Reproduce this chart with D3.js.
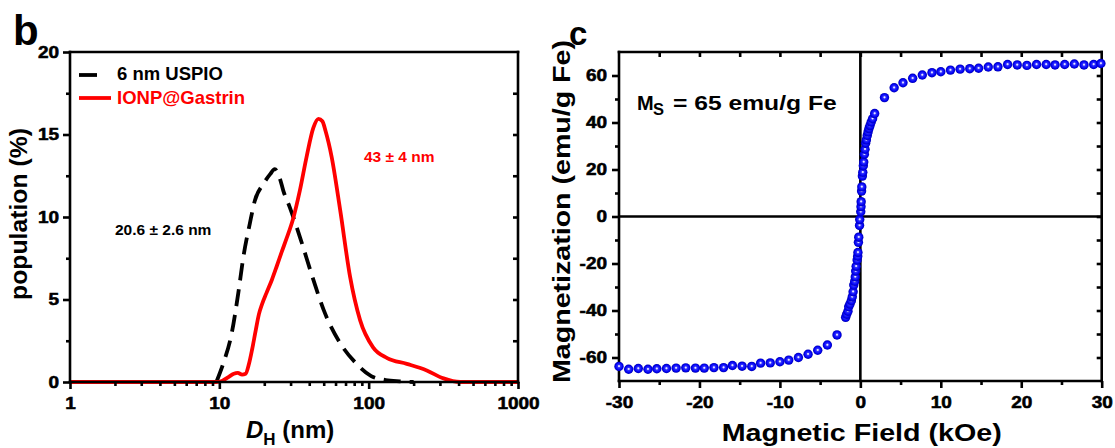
<!DOCTYPE html>
<html><head><meta charset="utf-8">
<script src="https://cdn.jsdelivr.net/npm/d3@7"></script>
<style>
body{margin:0;background:#fff;}
svg{display:block;font-family:"Liberation Sans",Arial,sans-serif;font-weight:bold;}
svg text{font-weight:bold;}
</style></head><body>
<svg id="chart" width="1115" height="448"></svg>
<script>
// ---------- Panel b : DLS size distribution ----------
const uspioD   = [9.6, 10.6, 12.1, 13.4, 14.5, 16.0, 17.3, 19.7, 21.9, 23.5, 25.5, 26.8, 29.6, 34.6, 42.6, 49.8, 64.5, 83, 104, 130, 162, 200];
const uspioPop = [0.05, 1.1, 2.95, 5.4, 7.6, 9.6, 11.0, 12.0, 12.6, 12.9, 12.3, 11.6, 10.6, 8.8, 6.2, 4.4, 2.35, 1.1, 0.36, 0.12, 0.04, 0];
const gastD    = [1, 9.5, 10.5, 11.5, 12.5, 13.3, 14.2, 15.0, 15.8, 16.6, 17.5, 18.4, 19.3, 20.7, 22.5, 24.2, 26.2, 28.2, 31.2, 34.6, 38.4, 42.6, 46.1, 49, 51.5, 56.5, 64.5, 75, 87.6, 107, 133, 180, 245, 317, 410, 1000];
const gastPop  = [0, 0, 0.08, 0.3, 0.5, 0.55, 0.45, 0.5, 1.1, 2.0, 3.1, 4.1, 4.7, 5.4, 6.2, 7.0, 7.9, 8.7, 9.9, 11.6, 13.65, 15.4, 15.95, 15.8, 15.2, 13.65, 10.4, 6.4, 3.75, 2.1, 1.45, 1.1, 0.7, 0.22, 0, 0];
const dlsXTicks = [1, 10, 100, 1000];
const dlsYTicks = [0, 5, 10, 15, 20];
const dlsYMinor = [2.5, 7.5, 12.5, 17.5];
const legendLabels = ["6 nm USPIO", "IONP@Gastrin"];
const peakLabels = ["20.6 ± 2.6 nm", "43 ± 4 nm"];

// ---------- Panel c : magnetization ----------
const fieldH = [-30.0, -28.8, -27.6, -26.4, -25.3, -24.1, -22.9, -21.7, -20.5, -19.4, -18.2, -17.0, -15.9, -14.7, -13.5, -12.4, -11.2, -10.0, -8.9, -7.7, -6.5, -5.3, -4.1, -2.9,
  -1.83, -1.7, -1.54, -1.45, -1.3, -1.12, -1.0, -0.9, -0.82, -0.7, -0.63, -0.58, -0.52, -0.4, -0.33, -0.3, -0.24, -0.2, -0.1, -0.08,
  0.05, 0.08, 0.1, 0.15, 0.18, 0.25, 0.3, 0.37, 0.42, 0.5, 0.58, 0.65, 0.75, 0.86, 0.96, 1.07, 1.2, 1.35, 1.52, 1.78,
  3.0, 4.2, 5.3, 6.5, 7.7, 8.9, 10.0, 11.2, 12.4, 13.6, 14.7, 15.9, 17.1, 18.3, 19.5, 20.7, 21.9, 23.1, 24.2, 25.4, 26.6, 27.8, 29.0, 29.9];
const magM = [-63.8, -65.0, -64.7, -65.0, -64.8, -64.7, -64.5, -64.4, -64.5, -64.5, -64.3, -64.3, -63.4, -63.7, -63.8, -62.4, -62.3, -61.8, -61.1, -60.0, -58.6, -56.9, -54.7, -50.4,
  -42.9, -41.6, -40.3, -38.4, -37.3, -35.8, -34.2, -32.0, -29.2, -27.6, -25.7, -23.2, -21.2, -18.5, -16.9, -15.3, -11.0, -8.8, -3.8, -1.3,
  2.0, 4.2, 6.3, 10.8, 12.6, 17.2, 18.8, 21.6, 23.2, 26.5, 28.6, 31.2, 32.6, 34.5, 36.0, 37.4, 38.7, 40.2, 41.6, 43.8,
  50.6, 54.8, 56.9, 58.8, 60.2, 61.2, 61.6, 62.3, 62.7, 62.9, 63.1, 63.6, 63.7, 64.7, 64.5, 64.3, 64.7, 64.7, 64.5, 64.7, 64.9, 64.5, 64.7, 65.1];
const magXTicks = [-30, -20, -10, 0, 10, 20, 30];
const magXMinor = [-25, -15, -5, 5, 15, 25];
const magYTicks = [-60, -40, -20, 0, 20, 40, 60];
const magYMinor = [-50, -30, -10, 10, 30, 50];
const msLabel = ["M", "S", "= 65 emu/g Fe"];

const svg = d3.select("#chart");
const AXW = 2.6;
const FONT = '"Liberation Sans", Arial, sans-serif';
const plainFmt = d => String(d);

function styleAxis(g) {
  g.attr("font-family", FONT).attr("font-size", 16.5);
  g.select(".domain").remove();
  g.selectAll(".tick line").attr("stroke", "#000").attr("stroke-width", AXW);
  g.selectAll(".tick text").style("font-size", "16.5px").style("font-weight", "bold")
    .style("font-family", FONT).attr("fill", "#000")
    .attr("stroke", "#000").attr("stroke-width", 0.55)
    .each(function () {
      const w = this.getComputedTextLength();
      if (w > 0) d3.select(this).attr("textLength", w * 1.15).attr("lengthAdjust", "spacingAndGlyphs");
    });
}
function frame(g, x0, x1, y0, y1) {
  const L = [[x0, y0, x0, y1], [x0, y1, x1, y1], [x0, y0, x1, y0], [x1, y0, x1, y1]];
  g.selectAll("line.frame").data(L).join("line").attr("class", "frame")
    .attr("x1", d => d[0]).attr("y1", d => d[1]).attr("x2", d => d[2]).attr("y2", d => d[3])
    .attr("stroke", "#000").attr("stroke-width", AXW).attr("stroke-linecap", "square");
}

// ================= Panel b =================
const xb = d3.scaleLog().domain([1, 1000]).range([70, 518]);
const yb = d3.scaleLinear().domain([0, 20]).range([382, 52]);
const gb = svg.append("g");

const xbMinor = [];
[1, 10, 100].forEach(dec => { for (let k = 2; k <= 9; k++) xbMinor.push(dec * k); });

const lineB = d3.line().x(d => xb(d[0])).y(d => yb(d[1])).curve(d3.curveMonotoneX);
gb.append("path").datum(uspioD.map((d, i) => [d, uspioPop[i]]))
  .attr("d", lineB).attr("fill", "none").attr("stroke", "#000").attr("stroke-width", 3.8)
  .attr("stroke-dasharray", "17,9");
gb.append("path").datum(gastD.map((d, i) => [d, gastPop[i]]))
  .attr("d", lineB).attr("fill", "none").attr("stroke", "#ff0000").attr("stroke-width", 3.8);

gb.append("g").attr("transform", "translate(0,382)")
  .call(d3.axisBottom(xb).tickValues(xbMinor).tickSize(4).tickFormat("")).call(styleAxis);
gb.append("g").attr("transform", "translate(0,382)")
  .call(d3.axisBottom(xb).tickValues(dlsXTicks).tickSize(7).tickPadding(8).tickFormat(plainFmt)).call(styleAxis);
gb.append("g").attr("transform", "translate(70,0)")
  .call(d3.axisLeft(yb).tickValues(dlsYMinor).tickSize(4).tickFormat("")).call(styleAxis);
gb.append("g").attr("transform", "translate(70,0)")
  .call(d3.axisLeft(yb).tickValues(dlsYTicks).tickSize(7).tickPadding(4).tickFormat(plainFmt)).call(styleAxis);
gb.append("g").attr("transform", "translate(518,0)")
  .call(d3.axisLeft(yb).tickValues(dlsYTicks.slice(1, -1).concat(dlsYMinor)).tickSize(5).tickFormat("")).call(styleAxis);
frame(gb, 70, 518, 52, 382);

gb.append("line").attr("x1", 79).attr("x2", 97).attr("y1", 75).attr("y2", 75)
  .attr("stroke", "#000").attr("stroke-width", 3.8);
gb.append("line").attr("x1", 79).attr("x2", 111).attr("y1", 98).attr("y2", 98)
  .attr("stroke", "#ff0000").attr("stroke-width", 3.8);
gb.append("text").attr("x", 117).attr("y", 80).attr("font-size", 18.5).attr("fill", "#000").text(legendLabels[0]);
gb.append("text").attr("x", 117).attr("y", 104).attr("font-size", 18.5).attr("fill", "#ff0000").text(legendLabels[1]);

gb.append("text").attr("x", 115).attr("y", 235).attr("font-size", 15.5).attr("fill", "#000").text(peakLabels[0]);
gb.append("text").attr("x", 364).attr("y", 162).attr("font-size", 15.5).attr("fill", "#ff0000").text(peakLabels[1]);

gb.append("text").attr("x", 13).attr("y", 45).attr("font-size", 42).text("b");
gb.append("text").attr("transform", "translate(27,214) rotate(-90)").attr("text-anchor", "middle")
  .attr("font-size", 23.5).attr("textLength", 172).attr("lengthAdjust", "spacingAndGlyphs").text("population (%)");
const dt = gb.append("text").attr("x", 246).attr("y", 438).attr("font-size", 24);
dt.append("tspan").attr("font-style", "italic").text("D");
dt.append("tspan").attr("font-size", 17).attr("dy", 7).text("H");
dt.append("tspan").attr("dy", -7).text(" (nm)");

// ================= Panel c =================
const xc = d3.scaleLinear().domain([-30, 30]).range([619, 1101.7]);
const yc = d3.scaleLinear().domain([-70, 70]).range([381, 52]);
const gc = svg.append("g");

const defs = svg.append("defs");
const grad = defs.append("radialGradient").attr("id", "ball")
  .attr("cx", "50%").attr("cy", "50%").attr("r", "50%").attr("fx", "50%").attr("fy", "46%");
[[0, "#ffffff"], [0.14, "#d0d0ff"], [0.32, "#3030ff"], [0.75, "#0000f2"], [1, "#0000b0"]]
  .forEach(s => grad.append("stop").attr("offset", s[0]).attr("stop-color", s[1]));

gc.append("g").attr("transform", "translate(0,381)")
  .call(d3.axisBottom(xc).tickValues(magXMinor).tickSize(4).tickFormat("")).call(styleAxis);
gc.append("g").attr("transform", "translate(0,381)")
  .call(d3.axisBottom(xc).tickValues(magXTicks).tickSize(7).tickPadding(8).tickFormat(plainFmt)).call(styleAxis);
gc.append("g").attr("transform", "translate(619,0)")
  .call(d3.axisLeft(yc).tickValues(magYMinor).tickSize(4).tickFormat("")).call(styleAxis);
gc.append("g").attr("transform", "translate(619,0)")
  .call(d3.axisLeft(yc).tickValues(magYTicks).tickSize(7).tickPadding(5).tickFormat(plainFmt)).call(styleAxis);
gc.append("g").attr("transform", "translate(1101.7,0)")
  .call(d3.axisLeft(yc).tickValues(magYTicks.concat(magYMinor)).tickSize(5).tickFormat("")).call(styleAxis);
gc.append("g").attr("transform", "translate(0,52)")
  .call(d3.axisBottom(xc).tickValues(magXTicks.slice(1, -1).concat(magXMinor)).tickSize(5).tickFormat("")).call(styleAxis);
frame(gc, 619, 1101.7, 52, 381);
gc.append("line").attr("x1", xc(-30)).attr("x2", xc(30)).attr("y1", yc(0)).attr("y2", yc(0))
  .attr("stroke", "#000").attr("stroke-width", AXW);
gc.append("line").attr("x1", xc(0)).attr("x2", xc(0)).attr("y1", yc(70)).attr("y2", yc(-70))
  .attr("stroke", "#000").attr("stroke-width", AXW);

gc.append("g").selectAll("circle").data(fieldH.map((h, i) => [h, magM[i]])).join("circle")
  .attr("cx", d => xc(d[0])).attr("cy", d => yc(d[1])).attr("r", 4.7)
  .attr("fill", "url(#ball)");

gc.append("text").attr("x", 569).attr("y", 45).attr("font-size", 33).text("c");
gc.append("text").attr("transform", "translate(570,211.5) rotate(-90)").attr("text-anchor", "middle")
  .attr("font-size", 23.5).attr("textLength", 343).attr("lengthAdjust", "spacingAndGlyphs")
  .text("Magnetization (emu/g Fe)");
gc.append("text").attr("x", 861.7).attr("y", 441).attr("text-anchor", "middle")
  .attr("font-size", 23.5).attr("textLength", 280).attr("lengthAdjust", "spacingAndGlyphs")
  .text("Magnetic Field (kOe)");
gc.append("text").attr("x", 637).attr("y", 110).attr("font-size", 20).text(msLabel[0]);
gc.append("text").attr("x", 653).attr("y", 115).attr("font-size", 16.5).text(msLabel[1]);
gc.append("text").attr("x", 673).attr("y", 110).attr("font-size", 20)
  .attr("textLength", 163.7).attr("lengthAdjust", "spacingAndGlyphs").text(msLabel[2]);
</script>
</body></html>
